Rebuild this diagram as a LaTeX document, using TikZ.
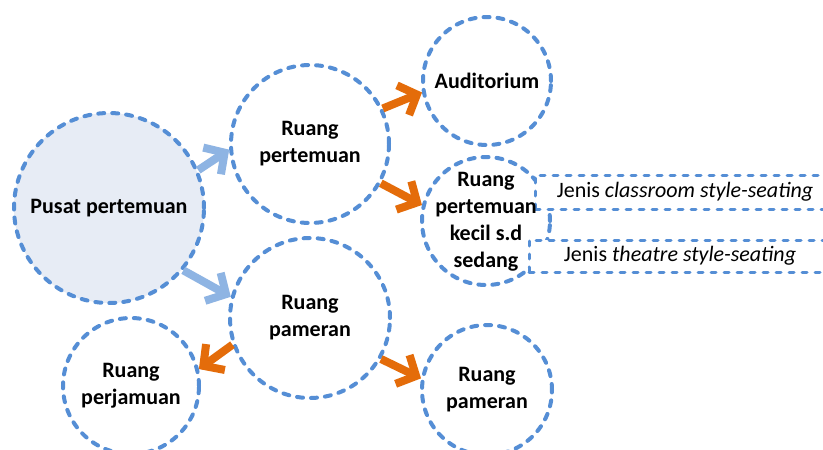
\documentclass[tikz,border=0pt]{standalone}
\usepackage{fontspec}
\setmainfont{Carlito}
\usetikzlibrary{arrows.meta}
\definecolor{dashblue}{HTML}{558ED5}
\definecolor{lightarrow}{HTML}{8EB4E3}
\definecolor{orangearrow}{HTML}{E46C0A}
\definecolor{pusatfill}{HTML}{E7ECF5}
\begin{document}
\begin{tikzpicture}[x=1pt,y=-1pt,
  circ/.style={circle, draw=dashblue, line width=4pt, dash pattern=on 6pt off 8pt, line cap=round,
    inner sep=0pt, align=center, text=black, font=\fontsize{22}{27}\selectfont\bfseries},
  label/.style={inner sep=0pt, align=center, text=black, font=\fontsize{22}{27}\selectfont\bfseries},
  rectbox/.style={rectangle, draw=dashblue, fill=white, line width=3pt, dash pattern=on 5pt off 8pt,
    line cap=round, inner sep=0pt, text=black, font=\fontsize{22}{27}\selectfont},
  bluearr/.style={draw=lightarrow, line width=8pt,
    -{Straight Barb[length=15pt,width=32pt,line cap=butt,line join=miter]}},
  orarr/.style={draw=orangearrow, line width=8pt,
    -{Straight Barb[length=15pt,width=32pt,line cap=butt,line join=miter]}}
]
\clip (0,0) rectangle (823,450);
\fill[white] (0,0) rectangle (823,450);

\node[circ, fill=pusatfill, minimum size=190pt] (pusat) at (109,208) {Pusat pertemuan};
\node[circ, minimum size=158pt] (rp) at (310,144) {Ruang\\pertemuan};
\node[circ, minimum size=128pt] (aud) at (487,81) {Auditorium};
\node[circ, minimum size=128pt] (kecil) at (486,221) {};
\node[circ, minimum size=160pt] (pam) at (310,318) {Ruang\\pameran};
\node[circ, minimum size=136pt] (jamu) at (131,386) {Ruang\\perjamuan};
\node[circ, minimum size=130pt] (pam2) at (487,390) {Ruang\\pameran};

\node[rectbox, minimum width=300pt, minimum height=34pt] (classroom) at (685,192)
  {Jenis \textit{classroom style-seating}};
\node[rectbox, minimum width=302pt, minimum height=32pt] (theatre) at (680,256)
  {Jenis \textit{theatre style-seating}};
\node[label] (kecilt) at (486,222) {Ruang\\pertemuan\\kecil s.d\\sedang};

\draw[bluearr] (pusat.23) -- (rp.184);
\draw[bluearr] (pusat.-40) -- (pam.165);
\draw[orarr] (rp.26) -- (aud.190);
\draw[orarr] (rp.-29) -- (kecil.166);
\draw[orarr] (pam.-161) -- (jamu.14);
\draw[orarr] (pam.-30) -- (pam2.170);
\end{tikzpicture}
\end{document}
